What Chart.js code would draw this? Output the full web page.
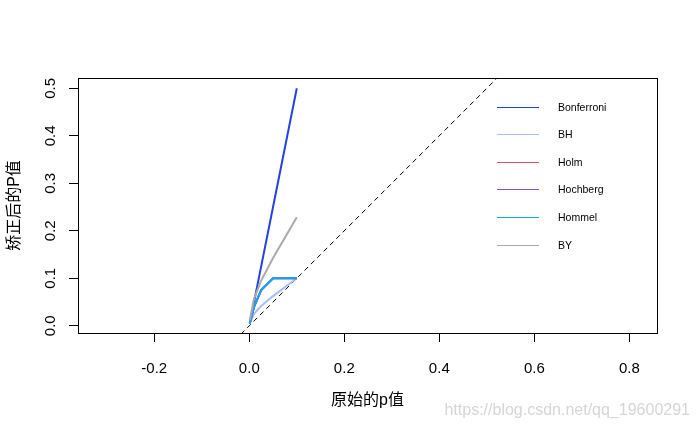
<!DOCTYPE html>
<html>
<head>
<meta charset="utf-8">
<script src="https://cdn.jsdelivr.net/npm/chart.js@4/dist/chart.umd.min.js"></script>
<style>
    body { margin: 0; background: #fff; }
    canvas { display: block; }
</style>
</head>
<body>
<canvas id="mainChart" width="698" height="431"></canvas>
<script>
// 原始p值与各方法矫正后的p值
const rawP = [0.001, 0.01, 0.025, 0.05, 0.1];
const bonferroniP = [0.005, 0.05, 0.125, 0.25, 0.5];
const bhP = [0.005, 0.025, 0.0417, 0.0625, 0.1];
const holmP = [0.005, 0.04, 0.075, 0.1, 0.1];
const hochbergP = [0.005, 0.04, 0.075, 0.1, 0.1];
const hommelP = [0.005, 0.04, 0.075, 0.1, 0.1];
const byP = [0.0114, 0.0571, 0.0951, 0.1427, 0.2283];

const methodNames = ['Bonferroni', 'BH', 'Holm', 'Hochberg', 'Hommel', 'BY'];
const methodValues = [bonferroniP, bhP, holmP, hochbergP, hommelP, byP];
const methodColors = ['#2342e5', '#a9bcf5', '#df536b', '#8a4fd0', '#0fa8ef', '#aaaaaa'];

// 对角参考线 y = x
const diagX = [-0.5, 1];
const diagY = [-0.5, 1];

// 坐标轴刻度
const xTicks = [-0.2, 0.0, 0.2, 0.4, 0.6, 0.8];
const yTicks = [0.0, 0.1, 0.2, 0.3, 0.4, 0.5];
const xRange = [-0.3606, 0.8583];
const yRange = [-0.0152, 0.5217];

const latin = '"Liberation Sans", Arial, sans-serif';
const cjk = '"Liberation Sans", "Noto Sans CJK SC", sans-serif';

function toPoints(xs, ys) {
    return xs.map((x, i) => ({x: x, y: ys[i]}));
}

const datasets = methodNames.map((name, i) => ({
    label: name,
    data: toPoints(rawP, methodValues[i]),
    borderColor: methodColors[i],
    backgroundColor: methodColors[i],
    borderWidth: 2,
    showLine: true,
    pointRadius: 0,
    tension: 0,
    order: methodNames.length - i
}));

datasets.push({
    label: 'diag',
    data: toPoints(diagX, diagY),
    borderColor: '#000',
    borderWidth: 1,
    borderDash: [5, 4],
    showLine: true,
    pointRadius: 0,
    clip: 0,
    order: 10
});

// 边框、图例和水印
const decorPlugin = {
    id: 'decor',
    afterDraw(chart) {
        const ctx = chart.ctx;
        const a = chart.chartArea;
        ctx.save();
        ctx.strokeStyle = '#000';
        ctx.lineWidth = 1;
        ctx.strokeRect(a.left + 0.5, a.top + 0.5, a.right - a.left, a.bottom - a.top);

        ctx.font = '10.5px ' + latin;
        ctx.textBaseline = 'middle';
        ctx.textAlign = 'left';
        methodNames.forEach((name, i) => {
            const y = Math.round(106.5 + i * 27.6) + 0.5;
            ctx.strokeStyle = methodColors[i];
            ctx.beginPath();
            ctx.moveTo(497, y);
            ctx.lineTo(539, y);
            ctx.stroke();
            ctx.fillStyle = '#000';
            ctx.fillText(name, 558, y + 1);
        });

        ctx.font = '16px ' + latin;
        ctx.fillStyle = '#d6d6d6';
        ctx.textAlign = 'right';
        ctx.fillText('https://blog.csdn.net/qq_19600291', 690, 411);
        ctx.restore();
    }
};

new Chart(document.getElementById('mainChart'), {
    type: 'scatter',
    data: { datasets: datasets },
    options: {
        responsive: false,
        animation: false,
        layout: { padding: { left: 0, top: 78, right: 41, bottom: 0 } },
        plugins: {
            legend: { display: false },
            tooltip: { enabled: false }
        },
        scales: {
            x: {
                type: 'linear',
                min: xRange[0],
                max: xRange[1],
                afterBuildTicks: s => { s.ticks = xTicks.map(v => ({value: v})); },
                afterFit: s => { s.height = 98; },
                border: { display: false },
                grid: { drawOnChartArea: false, tickLength: 9, tickColor: '#000', tickWidth: 1 },
                ticks: {
                    color: '#000',
                    font: { family: latin, size: 15 },
                    padding: 18,
                    maxRotation: 0,
                    callback: v => v.toFixed(1)
                },
                title: {
                    display: true,
                    text: '原始的p值',
                    color: '#000',
                    font: { family: cjk, size: 16 },
                    padding: { top: 0, bottom: 21 }
                }
            },
            y: {
                type: 'linear',
                min: yRange[0],
                max: yRange[1],
                afterBuildTicks: s => { s.ticks = yTicks.map(v => ({value: v})); },
                afterFit: s => { s.width = 78; },
                border: { display: false },
                grid: { drawOnChartArea: false, tickLength: 9, tickColor: '#000', tickWidth: 1 },
                ticks: {
                    color: '#000',
                    font: { family: latin, size: 15 },
                    padding: 8,
                    minRotation: 90,
                    maxRotation: 90,
                    crossAlign: 'center',
                    callback: v => v.toFixed(1)
                },
                title: {
                    display: true,
                    text: '矫正后的P值',
                    color: '#000',
                    font: { family: cjk, size: 16 },
                    padding: { top: 5, bottom: 0 }
                }
            }
        }
    },
    plugins: [decorPlugin]
});
</script>
</body>
</html>
